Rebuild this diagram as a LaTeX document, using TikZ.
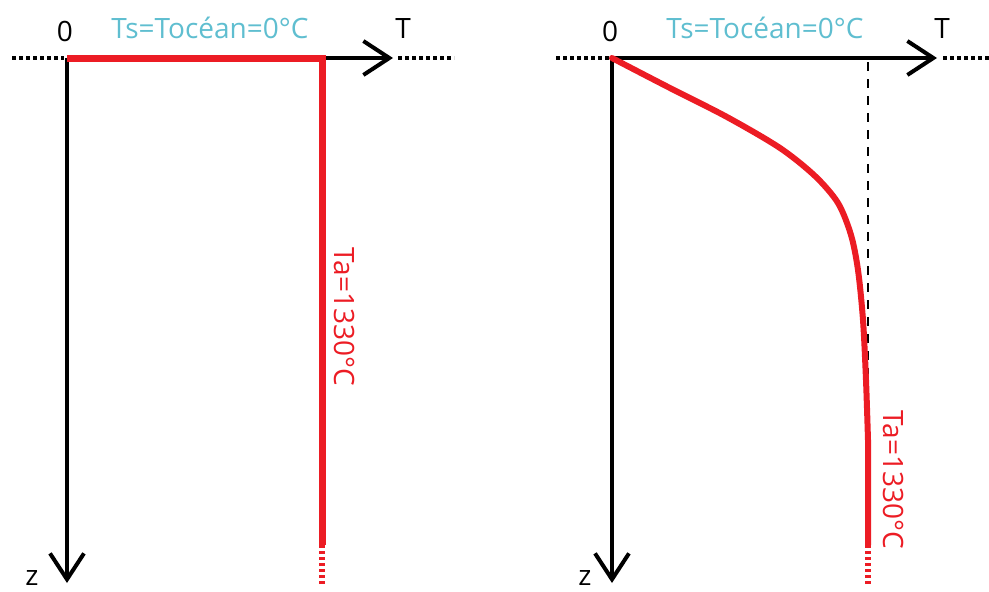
\documentclass[tikz,border=0pt]{standalone}
\usepackage{fontspec}
\setmainfont{Open Sans}
\usetikzlibrary{arrows.meta}
\definecolor{redc}{RGB}{236,28,36}
\definecolor{bluec}{RGB}{95,190,208}
\tikzset{
  axis/.style={line width=4.5pt,-{Straight Barb[length=26pt,width=34pt,line width=4pt]}},
  dotext/.style={line width=4pt,dash pattern=on 4pt off 3pt},
  redline/.style={redc,line width=7pt},
  redtail/.style={redc,line width=6pt,dash pattern=on 3pt off 3pt},
  lab/.style={font=\fontsize{28}{32}\selectfont,inner sep=0pt},
  bluelab/.style={lab,text=bluec},
  redlab/.style={lab,text=redc,rotate=-90}
}
\begin{document}
\begin{tikzpicture}[x=1pt,y=-1pt]
\useasboundingbox (0,0) rectangle (989,592);
% ---------- left panel ----------
\coordinate (O1) at (67,58);
\coordinate (T1) at (393,58);
\coordinate (Z1) at (67,583);
\coordinate (A1) at (322,58);
\coordinate (B1) at (322,545);
\coordinate (C1) at (322,584);
\coordinate (L1a) at (12,58);
\coordinate (L1b) at (64,58);
\coordinate (R1a) at (398,58);
\coordinate (R1b) at (454,58);
\draw[dotext] (L1a) -- (L1b);
\draw[dotext] (R1a) -- (R1b);
\draw[axis] (O1) -- (T1);
\draw[axis] (O1) -- (Z1);
\draw[redline,line join=miter] (O1) -- (A1) -- (B1);
\draw[redtail] (B1) -- (C1);
\node[lab] (zero1) at (65,31) {0};
\node[bluelab] (ts1) at (210,28) {Ts=Tocéan=0°C};
\node[lab] (t1) at (403,29) {T};
\node[lab] (z1) at (32,578) {z};
\node[redlab] (ta1) at (345,317) {Ta=1330°C};
% ---------- right panel ----------
\coordinate (O2) at (612,58);
\coordinate (T2) at (937,58);
\coordinate (Z2) at (612,583);
\coordinate (L2a) at (556,58);
\coordinate (L2b) at (609,58);
\coordinate (R2a) at (943,58);
\coordinate (R2b) at (992,58);
\coordinate (D2a) at (868,62);
\coordinate (D2b) at (868,378);
\coordinate (B2) at (868,545);
\coordinate (C2) at (868,584);
\draw[dotext] (L2a) -- (L2b);
\draw[dotext] (R2a) -- (R2b);
\draw[line width=1.6pt,dash pattern=on 9pt off 8pt] (D2a) -- (D2b);
\draw[axis] (O2) -- (T2);
\draw[axis] (O2) -- (Z2);
\draw[redc,line width=6pt,line cap=round]
  plot[smooth,tension=0.5] coordinates {(612,58) (668,87) (727,117) (780,148) (815,176) (838,203) (851,235) (858,270) (863,320) (866,380) (868,440)}
  -- (B2);
\draw[redtail] (B2) -- (C2);
\node[lab] (zero2) at (610,31) {0};
\node[bluelab] (ts2) at (765,28) {Ts=Tocéan=0°C};
\node[lab] (t2) at (942,29) {T};
\node[lab] (z2) at (585,578) {z};
\node[redlab] (ta2) at (894,480) {Ta=1330°C};
\end{tikzpicture}
\end{document}
